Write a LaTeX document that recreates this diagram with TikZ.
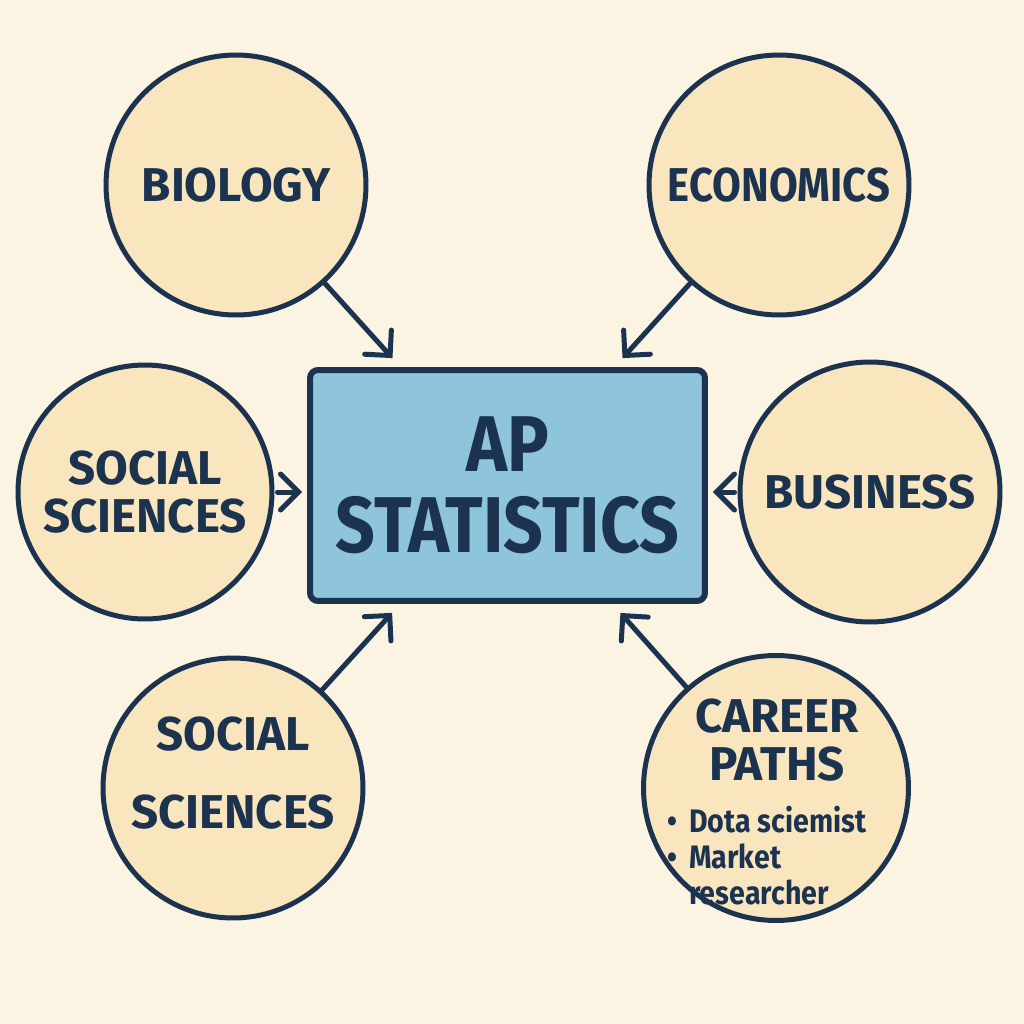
\documentclass[tikz,border=0pt]{standalone}
\usepackage{fontspec}
\setmainfont{Fira Sans}
\newfontfamily\narrowsans[FakeStretch = 0.88]{Fira Sans}
\usetikzlibrary{arrows.meta, positioning}

\definecolor{paper}{HTML}{FBF4E3}
\definecolor{sand}{HTML}{F9E5BE}
\definecolor{navy}{HTML}{1C3350}
\definecolor{sky}{HTML}{8EC5DC}

\tikzset{
	topic/.style = {circle, draw = navy, fill = sand, line width = 0.1cm, minimum size = 5.2cm, inner sep = 0pt, align = center, text = navy, font = \bfseries\fontsize{27}{27}\selectfont},
	hub/.style = {rectangle, rounded corners = 0.16cm, draw = navy, fill = sky, line width = 0.12cm, minimum width = 7.9cm, minimum height = 4.62cm, align = center, text = navy, font = \narrowsans\bfseries\fontsize{45}{46}\selectfont},
	link/.style = {->, draw = navy, line width = 0.1cm, line cap = round, shorten > = 0.24cm}
}

\begin{document}
\begin{tikzpicture}[x = 0.02cm, y = -0.02cm, > = {Straight Barb[length = 0.36cm, width = 0.72cm, line cap = round]}]

	\useasboundingbox [fill = paper] (0, 0) rectangle (1024, 1024);

	\node [hub] (stats) at (507.5, 485.5) {AP\\STATISTICS};

	\node [topic] (biology) at (236, 185) {BIOLOGY};
	\node [topic, font = \narrowsans\bfseries\fontsize{27}{27}\selectfont] (economics) at (779, 185) {ECONOMICS};
	\node [topic, minimum size = 5.08cm] (social) at (145, 492) {SOCIAL\\SCIENCES};
	\node [topic] (business) at (870, 492) {BUSINESS};
	\node [topic] (socialb) at (233, 788) {};
	\node [topic, minimum size = 5.3cm] (career) at (776, 788) {};

	% texts set apart from their circles
	\node [text = navy, align = center, font = \bfseries\fontsize{27}{44}\selectfont] (socialbtext) at (233, 773) {SOCIAL\\SCIENCES};
	\node [text = navy, align = center, font = \bfseries\fontsize{27}{27}\selectfont] (careertitle) at (777, 740) {CAREER\\PATHS};
	\node [text = navy, align = left, anchor = north west, inner sep = 0pt, font = \narrowsans\fontsize{18.5}{20.5}\selectfont\bfseries] (careerlist) at (667, 806) {\textbullet\hspace{0.24cm}Dota sciemist\\\textbullet\hspace{0.24cm}Market\\\hspace{0.44cm}researcher};

	\begin{scope}[link]

		\draw (biology) -- (stats);
		\draw (economics) -- (stats);
		\draw [shorten < = 0.06cm, shorten > = 0.1cm] (social.east) -- (social.east -| stats.west);
		\draw [shorten < = 0.06cm, shorten > = 0.1cm] (business.west) -- (business.west -| stats.east);
		\draw (socialb) -- (stats);
		\draw (career) -- (stats);

	\end{scope}

\end{tikzpicture}
\end{document}
